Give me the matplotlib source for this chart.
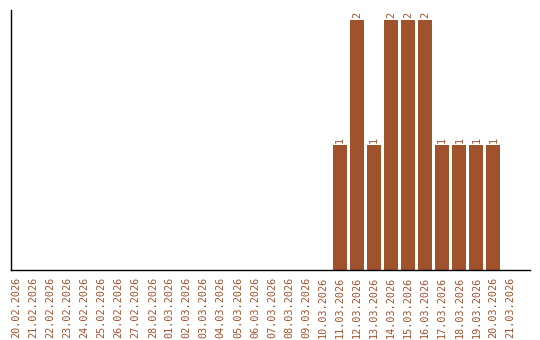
import matplotlib
matplotlib.use("Agg")
import matplotlib.pyplot as plt

dates = ["20.02.2026", "21.02.2026", "22.02.2026", "23.02.2026", "24.02.2026",
         "25.02.2026", "26.02.2026", "27.02.2026", "28.02.2026", "01.03.2026",
         "02.03.2026", "03.03.2026", "04.03.2026", "05.03.2026", "06.03.2026",
         "07.03.2026", "08.03.2026", "09.03.2026", "10.03.2026", "11.03.2026",
         "12.03.2026", "13.03.2026", "14.03.2026", "15.03.2026", "16.03.2026",
         "17.03.2026", "18.03.2026", "19.03.2026", "20.03.2026", "21.03.2026"]
values = [0, 0, 0, 0, 0, 0, 0, 0, 0, 0,
          0, 0, 0, 0, 0, 0, 0, 0, 0, 1,
          2, 1, 2, 2, 2, 1, 1, 1, 1, 0]

color = "#A0522D"
fig = plt.figure(figsize=(5.4, 3.4), dpi=100)
ax = fig.add_axes([11/540, 70/340, 519/540, 260/340])
x = list(range(len(dates)))
bars = ax.bar(x, values, width=0.82, color=color)
for xi, v in zip(x, values):
    if v > 0:
        ax.text(xi, v + 0.015, str(v), rotation=90, ha="center", va="bottom",
                fontsize=7.3, color=color, family="DejaVu Sans Mono")
ax.set_xlim(-0.32, 30.15)
ax.set_ylim(0, 2.08)
ax.set_xticks(x)
ax.set_xticklabels(dates, rotation=90, fontsize=7.3, color=color, family="DejaVu Sans Mono")
ax.tick_params(axis="x", length=0, pad=5)
ax.set_yticks([])
ax.spines["top"].set_visible(False)
ax.spines["right"].set_visible(False)
ax.spines["left"].set_linewidth(1)
ax.spines["bottom"].set_linewidth(1)
fig.savefig("out.png", dpi=100)
